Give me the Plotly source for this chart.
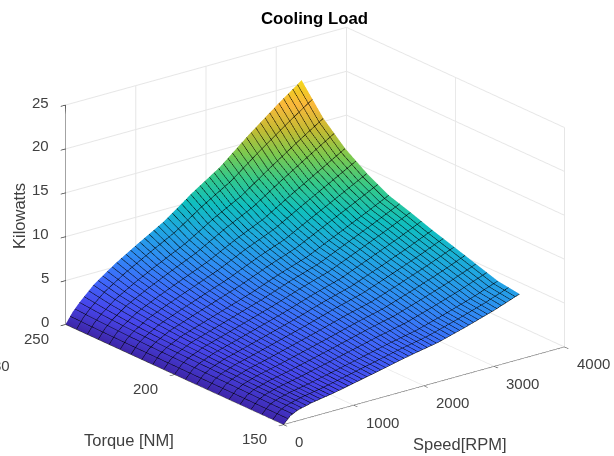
import plotly.graph_objects as go

speed = [0, 100, 200, 400, 700, 1000, 1400, 1800, 2200, 2600, 3000, 3360]
torque = [150, 160, 170, 180, 190, 200, 210, 220, 230, 240, 250]
kilowatts = [
    [0, .80, 1.20, 1.60, 2.00, 2.50, 3.20, 3.90, 4.50, 5.40, 6.40, 7.45],
    [0, .81, 1.22, 1.66, 2.09, 2.62, 3.35, 4.09, 4.73, 5.68, 6.72, 7.80],
    [0, .84, 1.28, 1.78, 2.29, 2.88, 3.68, 4.52, 5.26, 6.32, 7.45, 8.59],
    [0, .86, 1.34, 1.91, 2.50, 3.15, 4.02, 4.97, 5.79, 6.96, 8.19, 9.39],
    [0, .88, 1.39, 2.03, 2.70, 3.40, 4.34, 5.39, 6.31, 7.58, 8.90, 10.17],
    [0, .91, 1.45, 2.17, 2.93, 3.70, 4.72, 5.87, 6.89, 8.29, 9.71, 11.05],
    [0, .94, 1.51, 2.30, 3.14, 3.96, 5.05, 6.31, 7.42, 8.94, 10.45, 11.85],
    [0, .98, 1.60, 2.51, 3.49, 4.41, 5.62, 7.05, 8.32, 10.02, 11.68, 13.20],
    [0, 1.03, 1.72, 2.78, 3.93, 4.97, 6.33, 7.98, 9.45, 11.38, 13.24, 14.90],
    [0, 1.10, 1.88, 3.14, 4.52, 5.74, 7.30, 9.25, 10.98, 13.23, 15.36, 17.20],
    [0, 1.20, 2.10, 3.65, 5.35, 6.80, 8.65, 11.00, 13.10, 15.80, 18.30, 20.40],
]
speed_ticks = [0, 1000, 2000, 3000, 4000]
torque_ticks = [150, 200, 250]
kw_ticks = [0, 5, 10, 15, 20, 25]

parula = [
    [0.0, "#3e26a8"], [0.1, "#4746eb"], [0.2, "#3f68fb"], [0.3, "#2f8df4"],
    [0.4, "#1fa8e0"], [0.5, "#10bfc0"], [0.6, "#33c98c"], [0.7, "#7cc94f"],
    [0.8, "#c5bb33"], [0.9, "#fbb83b"], [0.95, "#f3c62a"], [1.0, "#f6d81c"],
]

INK = "#333333"
TEXT = "#404040"
GRID = "#e6e6e6"
FONT = "Liberation Sans"

fig = go.Figure(go.Surface(
    x=speed, y=torque, z=kilowatts,
    colorscale=parula, cmin=0, cmax=20.4, showscale=False,
    lighting=dict(ambient=1, diffuse=0, specular=0, roughness=1, fresnel=0),
    contours=dict(
        x=dict(show=True, start=0, end=3360, size=66, color="#000000", width=4),
        y=dict(show=True, start=150, end=250, size=5, color="#000000", width=2),
    ),
    hoverinfo="skip",
))


def axis(ticks, rng):
    return dict(
        range=rng, tickvals=ticks, showticklabels=False,
        title=dict(text=""), showbackground=False, showgrid=True, gridcolor=GRID, gridwidth=2,
        showline=True, linecolor=INK, linewidth=1.5, ticks="outside", ticklen=6, tickwidth=1.5,
        tickcolor=INK, zeroline=False, showspikes=False,
    )


tick_font = dict(family=FONT, size=15, color=TEXT)
tick_labels = (
    [dict(x=s, y=150, z=0, text=str(s), xanchor="left", xshift=10, yshift=-17) for s in speed_ticks]
    + [dict(x=0, y=t, z=0, text=str(t), xanchor="right", xshift=-14.5, yshift=-14) for t in torque_ticks]
    + [dict(x=0, y=250, z=k, text=str(k), xanchor="right", xshift=-14, yshift=3) for k in kw_ticks]
)
for lab in tick_labels:
    lab.update(showarrow=False, yanchor="middle", font=tick_font)

fig.update_layout(
    width=614, height=456, margin=dict(l=0, r=0, t=0, b=0),
    paper_bgcolor="white",
    title=dict(text="<b>Cooling Load</b>", x=314.5 / 614, xanchor="center",
               y=1 - 18 / 456, yanchor="middle",
               font=dict(family=FONT, size=16.8, color="black")),
    scene=dict(
        domain=dict(x=[0, 1], y=[0, 1]),
        xaxis=axis(speed_ticks, [0, 4000]),
        yaxis=axis(torque_ticks, [150, 250]),
        zaxis=axis(kw_ticks, [0, 25]),
        aspectmode="manual", aspectratio=dict(x=1.56, y=1.56, z=1.03),
        camera=dict(
            projection=dict(type="orthographic"),
            eye=dict(x=-1.432, y=-1.789, z=0.865),
            center=dict(x=-0.0278, y=0.0215, z=-0.0093),
            up=dict(x=0, y=0, z=1),
        ),
        annotations=tick_labels,
    ),
    annotations=[
        dict(text="Kilowatts", x=19, y=216, textangle=-90, font=dict(family=FONT, size=16.5, color=TEXT)),
        dict(text="Torque [NM]", x=129, y=440, textangle=0, font=dict(family=FONT, size=16.5, color=TEXT)),
        dict(text="Speed[RPM]", x=460, y=444, textangle=0, font=dict(family=FONT, size=16.5, color=TEXT)),
        dict(text="30", x=1.7, y=365, textangle=0, font=dict(family=FONT, size=15, color=TEXT)),
    ],
)
for a in fig.layout.annotations:
    a.update(x=a.x / 614, y=1 - a.y / 456, xref="paper", yref="paper", showarrow=False,
             xanchor="center", yanchor="middle")

fig.write_html("out.html", config={"displayModeBar": False}, post_script="document.body.style.margin='0';")
